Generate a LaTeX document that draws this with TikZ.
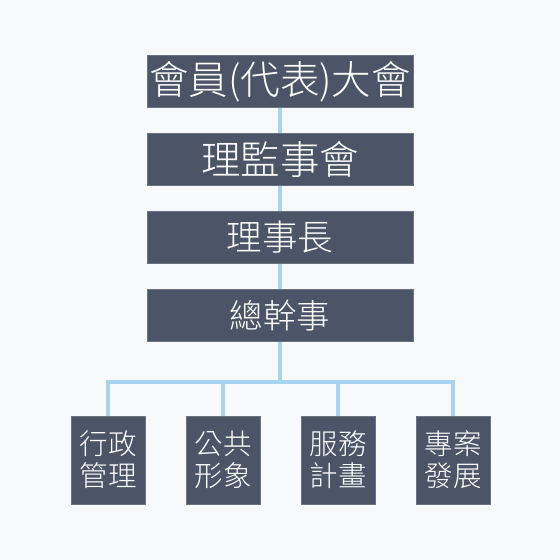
\documentclass[tikz,border=0pt]{standalone}
\usepackage{fontspec}
\setmainfont{Noto Sans CJK TC Light}
\definecolor{boxfill}{HTML}{4B5567}
\definecolor{boxline}{HTML}{6B7280}
\definecolor{linkblue}{HTML}{A9D4EF}
\definecolor{paper}{HTML}{F8F9FA}
\tikzset{
	unit/.style={draw=boxline,line width=1pt,fill=boxfill,text=white,minimum width=266pt,minimum height=52pt,inner sep=0pt},
	dept/.style={unit,minimum width=74pt,minimum height=88pt,align=center,font=\fontsize{28.5}{32}\selectfont},
	link/.style={draw=linkblue,line width=4.5pt}
}
\begin{document}
\begin{tikzpicture}[x=1pt,y=-1pt]
	\fill[paper] (0,0) rectangle (560,560);
	\useasboundingbox (0,0) rectangle (560,560);
	
	\coordinate (bus) at (280,382);
	\node[unit,font=\fontsize{39.5}{40}\selectfont] (assembly) at (280,81.5){會員(代表)大會};
	\node[unit,font=\fontsize{39.5}{40}\selectfont] (board) at (280,159.5){理監事會};
	\node[unit,font=\fontsize{35.5}{36}\selectfont] (chair) at (280,237){理事長};
	\node[unit,font=\fontsize{33.5}{34}\selectfont] (secgen) at (280,315.5){總幹事};
	
	\node[dept] (admin) at (108,460){行政\\管理};
	\node[dept] (image) at (223,460){公共\\形象};
	\node[dept] (service) at (338,460){服務\\計畫};
	\node[dept] (project) at (453,460){專案\\發展};
	
	\draw[link] (assembly)--(board);
	\draw[link] (board)--(chair);
	\draw[link] (chair)--(secgen);
	\draw[link] (secgen)--(bus);
	\draw[link] (bus)-|(admin);
	\draw[link] (bus)-|(image);
	\draw[link] (bus)-|(service);
	\draw[link] (bus)-|(project);
\end{tikzpicture}
\end{document}
